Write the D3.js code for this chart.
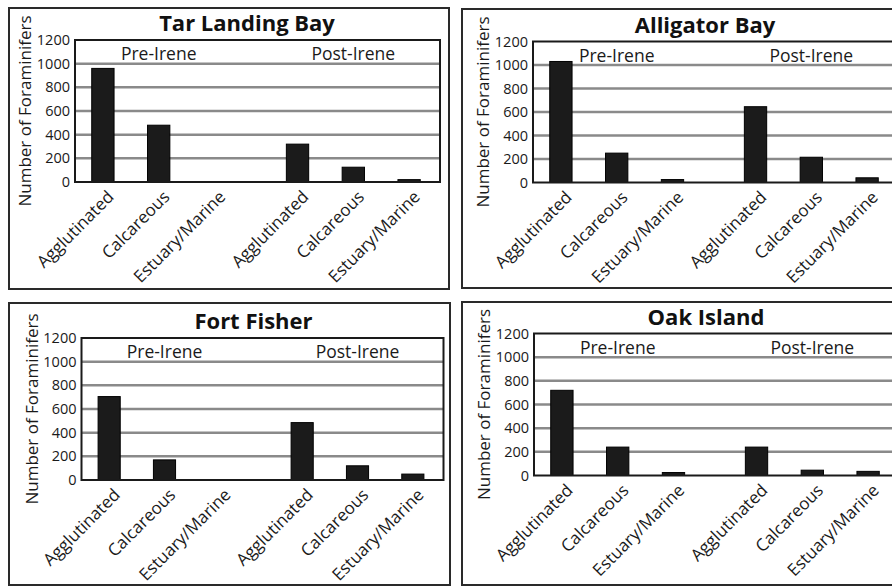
<!DOCTYPE html>
<html>
<head>
<meta charset="utf-8">
<script src="https://cdn.jsdelivr.net/npm/d3@7"></script>
<style>
  body { margin: 0; background: #fff; }
  svg { display: block; font-family: "Open Sans", sans-serif; }
</style>
</head>
<body>
<div id="chart"></div>
<script>
// data
const sites = ["Tar Landing Bay", "Alligator Bay", "Fort Fisher", "Oak Island"]
const groups = ["Pre-Irene", "Post-Irene"]
const types = ["Agglutinated", "Calcareous", "Estuary/Marine"]
const yTicks = [0, 200, 400, 600, 800, 1000, 1200]

// values in order: pre (Agg, Calc, Est), post (Agg, Calc, Est)
const tarLanding = [960, 480, 0, 320, 125, 20]
const alligator = [1030, 250, 25, 645, 215, 40]
const fortFisher = [705, 170, 0, 485, 120, 50]
const oakIsland = [720, 240, 25, 240, 45, 35]

const width = 892
const height = 587

// panel layout: outer box [x, y, w, h] and plot area [left, top, w, h]
const panels = [
    { site: sites[0], values: tarLanding, box: [9, 8, 440, 281], plot: [75, 40, 365, 142] },
    { site: sites[1], values: alligator, box: [462, 9, 450, 279], plot: [533, 41.5, 365, 141] },
    { site: sites[2], values: fortFisher, box: [9, 303, 441, 282], plot: [81.5, 338, 362, 142] },
    { site: sites[3], values: oakIsland, box: [462, 302, 450, 283], plot: [534, 333.5, 365, 142] }
]

const svg = d3.select("#chart")
    .append("svg")
    .attr("width", width)
    .attr("height", height)

const drawPanel = (p) => {
    const [bx, by, bw, bh] = p.box
    const [left, top, pw, ph] = p.plot

    // outer frame
    svg.append("rect")
        .attr("x", bx).attr("y", by)
        .attr("width", bw).attr("height", bh)
        .attr("fill", "none")
        .attr("stroke", "#2a2a2a")
        .attr("stroke-width", 2)

    const g = svg.append("g")
        .attr("transform", "translate(" + left + "," + top + ")")

    const y = d3.scaleLinear()
        .domain([0, 1200])
        .range([ph, 0])

    const outer = d3.scaleBand()
        .domain(groups)
        .range([0, pw - 3])
        .paddingInner(0.14)

    const inner = d3.scaleBand()
        .domain(types)
        .range([0, outer.bandwidth()])
        .paddingInner(0.6)
        .paddingOuter(0.3)

    // gridlines
    g.append("g")
        .selectAll("line")
        .data(yTicks.slice(1, -1))
        .enter()
        .append("line")
        .attr("x1", 0).attr("x2", pw)
        .attr("y1", (d) => y(d)).attr("y2", (d) => y(d))
        .attr("stroke", "#8a8a8a")
        .attr("stroke-width", 2.5)

    // bars
    const rows = []
    groups.forEach((grp, i) => {
        types.forEach((t, j) => {
            rows.push({ group: grp, type: t, value: p.values[i * 3 + j] })
        })
    })

    g.append("g")
        .selectAll("rect")
        .data(rows.filter((d) => d.value > 0))
        .enter()
        .append("rect")
        .attr("x", (d) => outer(d.group) + inner(d.type))
        .attr("y", (d) => y(d.value))
        .attr("width", inner.bandwidth())
        .attr("height", (d) => y(0) - y(d.value))
        .attr("fill", "#1b1b1b")
        .attr("stroke", "#000")
        .attr("stroke-width", 1)

    // plot frame
    g.append("rect")
        .attr("x", 0).attr("y", 0)
        .attr("width", pw).attr("height", ph)
        .attr("fill", "none")
        .attr("stroke", "#1a1a1a")
        .attr("stroke-width", 2)

    // y axis
    const yAxis = g.append("g")
        .call(d3.axisLeft(y).tickValues(yTicks).tickFormat(d3.format("d")).tickSize(0).tickPadding(5))
    yAxis.select(".domain").remove()
    yAxis.selectAll("text")
        .attr("font-size", 14.5)
        .attr("font-family", "Open Sans, sans-serif")
        .attr("fill", "#1a1a1a")

    // x axis, one per group
    groups.forEach((grp) => {
        const xAxis = g.append("g")
            .attr("transform", "translate(" + outer(grp) + "," + ph + ")")
            .call(d3.axisBottom(inner).tickSize(0))
        xAxis.select(".domain").remove()
        xAxis.selectAll("text")
            .attr("y", 0)
            .attr("dy", 0)
            .attr("transform", "translate(12,16) rotate(-45)")
            .style("text-anchor", "end")
            .attr("font-size", 17)
            .attr("font-family", "Open Sans, sans-serif")
            .attr("fill", "#1a1a1a")

        // group label
        g.append("text")
            .attr("x", outer(grp) + inner("Calcareous") + inner.bandwidth() / 2)
            .attr("y", 20)
            .attr("text-anchor", "middle")
            .attr("font-size", 17.5)
            .attr("fill", "#1a1a1a")
            .text(grp)
    })

    // title
    g.append("text")
        .attr("x", 172)
        .attr("y", -9)
        .attr("text-anchor", "middle")
        .attr("font-size", 22)
        .attr("font-weight", "bold")
        .attr("fill", "#111")
        .text(p.site)

    // y label
    g.append("text")
        .attr("transform", "translate(-44," + (ph / 2) + ") rotate(-90)")
        .attr("text-anchor", "middle")
        .attr("font-size", 17)
        .attr("fill", "#1a1a1a")
        .text("Number of Foraminifers")
}

panels.forEach(drawPanel)
</script>
</body>
</html>
